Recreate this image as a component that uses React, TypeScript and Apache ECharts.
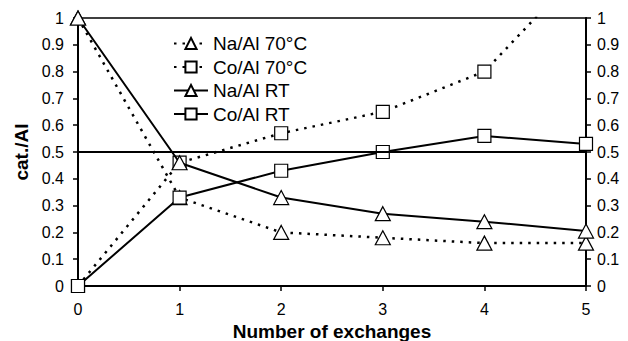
import React, { useEffect, useRef } from "react";
import * as echarts from "echarts";

const exchanges = [0, 1, 2, 3, 4, 5];
const naAl70 = [1.0, 0.33, 0.2, 0.18, 0.16, 0.16];
const coAl70 = [0.0, 0.46, 0.57, 0.65, 0.8, 1.2];
const naAlRT = [1.0, 0.46, 0.33, 0.27, 0.24, 0.205];
const coAlRT = [0.0, 0.33, 0.43, 0.5, 0.56, 0.53];
const refLine = 0.5;

const FONT = "'Liberation Sans', Arial, sans-serif";

const pair = (ys: number[]) => exchanges.map((x, i) => [x, ys[i]]);

export default function App() {
  const ref = useRef<HTMLDivElement>(null);
  useEffect(() => {
    if (!ref.current) return;
    const chart = echarts.init(ref.current, undefined, { renderer: "svg" });
    const dotted = { color: "#000", width: 2.5, type: [2.5, 6] as any };
    const solid = { color: "#000", width: 2 };
    const markerStyle = { color: "#fff", borderColor: "#000", borderWidth: 1.2 };
    const yAxisCommon = {
      type: "value",
      min: 0,
      max: 1,
      interval: 0.1,
      splitLine: { show: false },
      axisLine: { show: true, lineStyle: { color: "#000", width: 2 } },
      axisTick: { show: true, inside: false, length: 5, lineStyle: { color: "#000", width: 1.5 } },
      axisLabel: {
        color: "#000",
        fontSize: 16,
        fontFamily: FONT,
        formatter: (v: number) => String(Math.round(v * 10) / 10),
      },
    };
    chart.setOption({
      animation: false,
      backgroundColor: "#fff",
      grid: {
        left: 78,
        right: 42,
        top: 18,
        bottom: 55,
        outerBoundsMode: "none",
        containLabel: false,
        show: true,
        borderColor: "#000",
        borderWidth: 1.5,
        backgroundColor: "transparent",
      },
      legend: {
        orient: "vertical",
        left: 168,
        top: 29,
        itemWidth: 34,
        itemHeight: 14,
        itemGap: 4.5,
        textStyle: { color: "#000", fontSize: 19, lineHeight: 18, fontFamily: FONT },
        data: ["Na/Al 70°C", "Co/Al 70°C", "Na/Al RT", "Co/Al RT"],
      },
      xAxis: {
        type: "value",
        min: 0,
        max: 5,
        interval: 1,
        name: "Number of exchanges",
        nameLocation: "middle",
        nameGap: 25,
        nameTextStyle: { color: "#000", fontSize: 19, fontWeight: "bold", fontFamily: FONT },
        splitLine: { show: false },
        axisLine: { show: true, lineStyle: { color: "#000", width: 2 } },
        axisTick: { show: true, inside: false, length: 5, lineStyle: { color: "#000", width: 1.5 } },
        axisLabel: { color: "#000", fontSize: 16, fontFamily: FONT, margin: 15 },
      },
      yAxis: [
        {
          ...yAxisCommon,
          position: "left",
          name: "cat./Al",
          nameLocation: "middle",
          nameGap: 44,
          nameRotate: 90,
          nameTextStyle: { color: "#000", fontSize: 19, fontWeight: "bold", fontFamily: FONT },
          axisLabel: { ...yAxisCommon.axisLabel, margin: 14 },
        },
        {
          ...yAxisCommon,
          position: "right",
          axisLabel: { ...yAxisCommon.axisLabel, margin: 11 },
        },
      ],
      series: [
        {
          name: "Na/Al 70°C",
          type: "line",
          data: pair(naAl70),
          symbol: "triangle",
          symbolSize: [15, 14],
          lineStyle: dotted,
          itemStyle: markerStyle,
          z: 2,
        },
        {
          name: "Co/Al 70°C",
          type: "line",
          data: pair(coAl70),
          symbol: "rect",
          symbolSize: 13,
          lineStyle: dotted,
          itemStyle: markerStyle,
          z: 2,
        },
        {
          name: "Na/Al RT",
          type: "line",
          data: pair(naAlRT),
          symbol: "triangle",
          symbolSize: [15, 14],
          lineStyle: solid,
          itemStyle: markerStyle,
          z: 3,
          markLine: {
            silent: true,
            symbol: "none",
            label: { show: false },
            lineStyle: { color: "#000", width: 2, type: "solid" },
            data: [{ yAxis: refLine }],
          },
        },
        {
          name: "Co/Al RT",
          type: "line",
          data: pair(coAlRT),
          symbol: "rect",
          symbolSize: 13,
          lineStyle: solid,
          itemStyle: markerStyle,
          z: 3,
        },
      ],
    });
    return () => chart.dispose();
  }, []);
  return <div ref={ref} style={{ width: 628, height: 341, position: "absolute", left: 0, top: 0 }} />;
}
